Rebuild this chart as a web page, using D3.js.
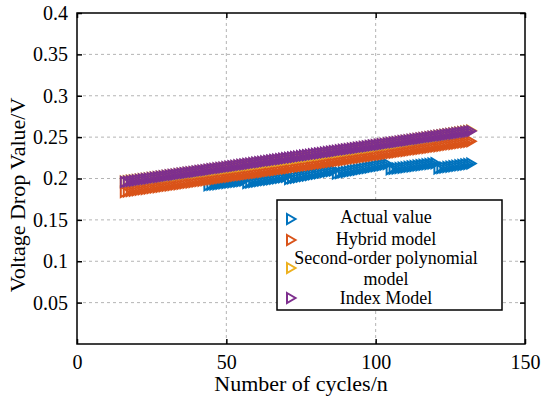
<!DOCTYPE html>
<html>
<head>
<meta charset="utf-8">
<script src="https://cdn.jsdelivr.net/npm/d3@7"></script>
<style>
  body { margin: 0; background: #fff; }
  svg text { font-family: "Liberation Serif", "Times New Roman", serif; fill: #000; }
</style>
</head>
<body>
<div id="chart"></div>
<script>
// model curves, one point per cycle (16..132)
const modelCycles = d3.range(16, 133);
const hybridModel = [
  0.1837, 0.1842, 0.1848, 0.1853, 0.1858, 0.1863, 0.1869, 0.1874, 0.1879, 0.1885,
  0.1890, 0.1895, 0.1900, 0.1906, 0.1911, 0.1916, 0.1921, 0.1927, 0.1932, 0.1937,
  0.1943, 0.1948, 0.1953, 0.1958, 0.1964, 0.1969, 0.1974, 0.1980, 0.1985, 0.1990,
  0.1995, 0.2001, 0.2006, 0.2011, 0.2017, 0.2022, 0.2027, 0.2032, 0.2038, 0.2043,
  0.2048, 0.2053, 0.2059, 0.2064, 0.2069, 0.2075, 0.2080, 0.2085, 0.2090, 0.2096,
  0.2101, 0.2106, 0.2112, 0.2117, 0.2122, 0.2127, 0.2133, 0.2138, 0.2143, 0.2149,
  0.2154, 0.2159, 0.2164, 0.2170, 0.2175, 0.2180, 0.2185, 0.2191, 0.2196, 0.2201,
  0.2207, 0.2212, 0.2217, 0.2222, 0.2228, 0.2233, 0.2238, 0.2244, 0.2249, 0.2254,
  0.2259, 0.2265, 0.2270, 0.2275, 0.2281, 0.2286, 0.2291, 0.2296, 0.2302, 0.2307,
  0.2312, 0.2317, 0.2323, 0.2328, 0.2333, 0.2339, 0.2344, 0.2349, 0.2354, 0.2360,
  0.2365, 0.2370, 0.2376, 0.2381, 0.2386, 0.2391, 0.2397, 0.2402, 0.2407, 0.2413,
  0.2418, 0.2423, 0.2428, 0.2434, 0.2439, 0.2444, 0.2449
];
const polyModel = [
  0.1963, 0.1968, 0.1973, 0.1977, 0.1981, 0.1986, 0.1991, 0.1995, 0.2000, 0.2005,
  0.2010, 0.2014, 0.2020, 0.2024, 0.2029, 0.2034, 0.2039, 0.2043, 0.2049, 0.2053,
  0.2058, 0.2063, 0.2068, 0.2072, 0.2077, 0.2082, 0.2087, 0.2091, 0.2097, 0.2102,
  0.2107, 0.2112, 0.2117, 0.2121, 0.2127, 0.2132, 0.2137, 0.2141, 0.2147, 0.2152,
  0.2157, 0.2162, 0.2167, 0.2172, 0.2178, 0.2183, 0.2188, 0.2193, 0.2198, 0.2203,
  0.2209, 0.2214, 0.2219, 0.2224, 0.2230, 0.2235, 0.2240, 0.2246, 0.2251, 0.2256,
  0.2262, 0.2267, 0.2272, 0.2278, 0.2283, 0.2288, 0.2293, 0.2299, 0.2304, 0.2310,
  0.2316, 0.2321, 0.2326, 0.2332, 0.2337, 0.2343, 0.2349, 0.2354, 0.2359, 0.2365,
  0.2371, 0.2376, 0.2381, 0.2387, 0.2393, 0.2399, 0.2405, 0.2410, 0.2415, 0.2421,
  0.2427, 0.2433, 0.2439, 0.2445, 0.2450, 0.2456, 0.2462, 0.2467, 0.2473, 0.2479,
  0.2485, 0.2491, 0.2497, 0.2503, 0.2508, 0.2514, 0.2520, 0.2526, 0.2532, 0.2537,
  0.2543, 0.2549, 0.2555, 0.2561, 0.2567, 0.2573, 0.2579
];
const indexModel = [
  0.1958, 0.1963, 0.1969, 0.1974, 0.1979, 0.1985, 0.1990, 0.1995, 0.2000, 0.2006,
  0.2011, 0.2016, 0.2022, 0.2027, 0.2032, 0.2038, 0.2043, 0.2048, 0.2054, 0.2059,
  0.2064, 0.2070, 0.2075, 0.2080, 0.2085, 0.2091, 0.2096, 0.2101, 0.2107, 0.2112,
  0.2117, 0.2123, 0.2128, 0.2133, 0.2139, 0.2144, 0.2149, 0.2154, 0.2160, 0.2165,
  0.2170, 0.2176, 0.2181, 0.2186, 0.2192, 0.2197, 0.2202, 0.2208, 0.2213, 0.2218,
  0.2224, 0.2229, 0.2234, 0.2239, 0.2245, 0.2250, 0.2255, 0.2261, 0.2266, 0.2271,
  0.2277, 0.2282, 0.2287, 0.2293, 0.2298, 0.2303, 0.2308, 0.2314, 0.2319, 0.2324,
  0.2330, 0.2335, 0.2340, 0.2346, 0.2351, 0.2356, 0.2362, 0.2367, 0.2372, 0.2377,
  0.2383, 0.2388, 0.2393, 0.2399, 0.2404, 0.2409, 0.2415, 0.2420, 0.2425, 0.2431,
  0.2436, 0.2441, 0.2447, 0.2452, 0.2457, 0.2462, 0.2468, 0.2473, 0.2478, 0.2484,
  0.2489, 0.2494, 0.2500, 0.2505, 0.2510, 0.2516, 0.2521, 0.2526, 0.2532, 0.2537,
  0.2542, 0.2547, 0.2553, 0.2558, 0.2563, 0.2569, 0.2574
];

// measured voltage drop, one point per cycle (44..132)
const actualCycles = d3.range(44, 133);
const actualValue = [
  0.1918, 0.1923, 0.1927, 0.1932, 0.1937, 0.1942, 0.1946, 0.1951, 0.1956, 0.1961,
  0.1965, 0.1970, 0.1975,
  0.1947, 0.1953, 0.1958, 0.1964, 0.1969, 0.1975, 0.1981, 0.1986, 0.1992, 0.1998,
  0.2003, 0.2009, 0.2014, 0.2020,
  0.1995, 0.2002, 0.2009, 0.2016, 0.2023, 0.2029, 0.2036, 0.2043, 0.2050, 0.2057,
  0.2064, 0.2071, 0.2078, 0.2084, 0.2091, 0.2098,
  0.2060, 0.2067, 0.2074, 0.2080, 0.2087, 0.2094, 0.2101, 0.2107, 0.2114, 0.2121,
  0.2128, 0.2134, 0.2141, 0.2148, 0.2155, 0.2161, 0.2168, 0.2175,
  0.2112, 0.2117, 0.2122, 0.2127, 0.2131, 0.2136, 0.2141, 0.2146, 0.2151, 0.2156,
  0.2161, 0.2166, 0.2171, 0.2175, 0.2180, 0.2185,
  0.2122, 0.2127, 0.2133, 0.2138, 0.2143, 0.2149, 0.2154, 0.2159, 0.2164, 0.2170,
  0.2175, 0.2180
];

const xTicks = [0, 50, 100, 150];
const yTicks = [0.05, 0.1, 0.15, 0.2, 0.25, 0.3, 0.35, 0.4];

const series = [
  { name: "Actual value", color: "#0072BD", xs: actualCycles, ys: actualValue },
  { name: "Hybrid model", color: "#D95319", xs: modelCycles, ys: hybridModel },
  { name: "Second-order polynomial", color: "#EDB120", xs: modelCycles, ys: polyModel },
  { name: "Index Model", color: "#7E2F8E", xs: modelCycles, ys: indexModel }
];

const width = 550, height = 398;
const margin = { top: 13, right: 25, bottom: 54, left: 77 };

const svg = d3.select("#chart").append("svg")
  .attr("width", width)
  .attr("height", height);

const x = d3.scaleLinear().domain([0, 150]).range([margin.left, width - margin.right]);
const y = d3.scaleLinear().domain([0, 0.4]).range([height - margin.bottom, margin.top]);

// dashed grid
const grid = svg.append("g")
  .attr("stroke", "#b4b4b4")
  .attr("stroke-width", 1)
  .attr("stroke-dasharray", "3,3");
grid.selectAll("line.gy")
  .data(yTicks.slice(0, -1))
  .enter().append("line")
  .attr("x1", x(0)).attr("x2", x(150))
  .attr("y1", d => y(d)).attr("y2", d => y(d));
grid.selectAll("line.gx")
  .data([50, 100])
  .enter().append("line")
  .attr("x1", d => x(d)).attr("x2", d => x(d))
  .attr("y1", y(0)).attr("y2", y(0.4));

// open triangle marker pointing right
const tri = "M-4,-5L4.5,0L-4,5Z";

series.forEach(s => {
  svg.append("g")
    .selectAll("path")
    .data(s.xs.map((c, i) => [c, s.ys[i]]))
    .enter().append("path")
    .attr("d", tri)
    .attr("transform", d => `translate(${x(d[0])},${y(d[1])})`)
    .attr("fill", "none")
    .attr("stroke", s.color)
    .attr("stroke-width", 2);
});

// axes with inward ticks on all four sides
const fmt = d => String(d);
svg.append("g")
  .attr("transform", `translate(0,${y(0)})`)
  .call(d3.axisBottom(x).tickValues(xTicks).tickSize(-5).tickPadding(11).tickFormat(fmt))
  .call(g => g.select(".domain").remove());
svg.append("g")
  .attr("transform", `translate(0,${y(0.4)})`)
  .call(d3.axisTop(x).tickValues(xTicks).tickSize(-5).tickFormat(""))
  .call(g => g.select(".domain").remove());
svg.append("g")
  .attr("transform", `translate(${x(0)},0)`)
  .call(d3.axisLeft(y).tickValues(yTicks).tickSize(-5).tickPadding(9).tickFormat(fmt))
  .call(g => g.select(".domain").remove());
svg.append("g")
  .attr("transform", `translate(${x(150)},0)`)
  .call(d3.axisRight(y).tickValues(yTicks).tickSize(-5).tickFormat(""))
  .call(g => g.select(".domain").remove());

svg.selectAll(".tick line").attr("stroke", "#000").attr("stroke-width", 1.5);
svg.selectAll(".tick text")
  .attr("font-family", "Liberation Serif")
  .attr("font-size", 20)
  .attr("fill", "#000");

svg.append("rect")
  .attr("x", x(0)).attr("y", y(0.4))
  .attr("width", x(150) - x(0)).attr("height", y(0) - y(0.4))
  .attr("fill", "none").attr("stroke", "#000").attr("stroke-width", 1.5);

// axis titles
svg.append("text")
  .attr("x", (x(0) + x(150)) / 2)
  .attr("y", 391)
  .attr("text-anchor", "middle")
  .attr("font-size", 22)
  .text("Number of cycles/n");
svg.append("text")
  .attr("transform", "translate(25,195) rotate(-90)")
  .attr("text-anchor", "middle")
  .attr("font-size", 22)
  .text("Voltage Drop Value/V");

// legend
const lg = svg.append("g");
lg.append("rect")
  .attr("x", 277).attr("y", 200)
  .attr("width", 225).attr("height", 110)
  .attr("fill", "#fff").attr("stroke", "#000").attr("stroke-width", 1.5);
const legendRows = [
  { m: 219, t: [[223, "Actual value"]] },
  { m: 240, t: [[245, "Hybrid model"]] },
  { m: 268, t: [[264, "Second-order polynomial"], [285, "model"]] },
  { m: 298, t: [[304, "Index Model"]] }
];
legendRows.forEach((r, i) => {
  lg.append("path")
    .attr("d", tri)
    .attr("transform", `translate(291,${r.m})`)
    .attr("fill", "none")
    .attr("stroke", series[i].color)
    .attr("stroke-width", 2);
  r.t.forEach(t => {
    lg.append("text")
      .attr("x", 386).attr("y", t[0])
      .attr("text-anchor", "middle")
      .attr("font-size", 18)
      .text(t[1]);
  });
});
</script>
</body>
</html>
